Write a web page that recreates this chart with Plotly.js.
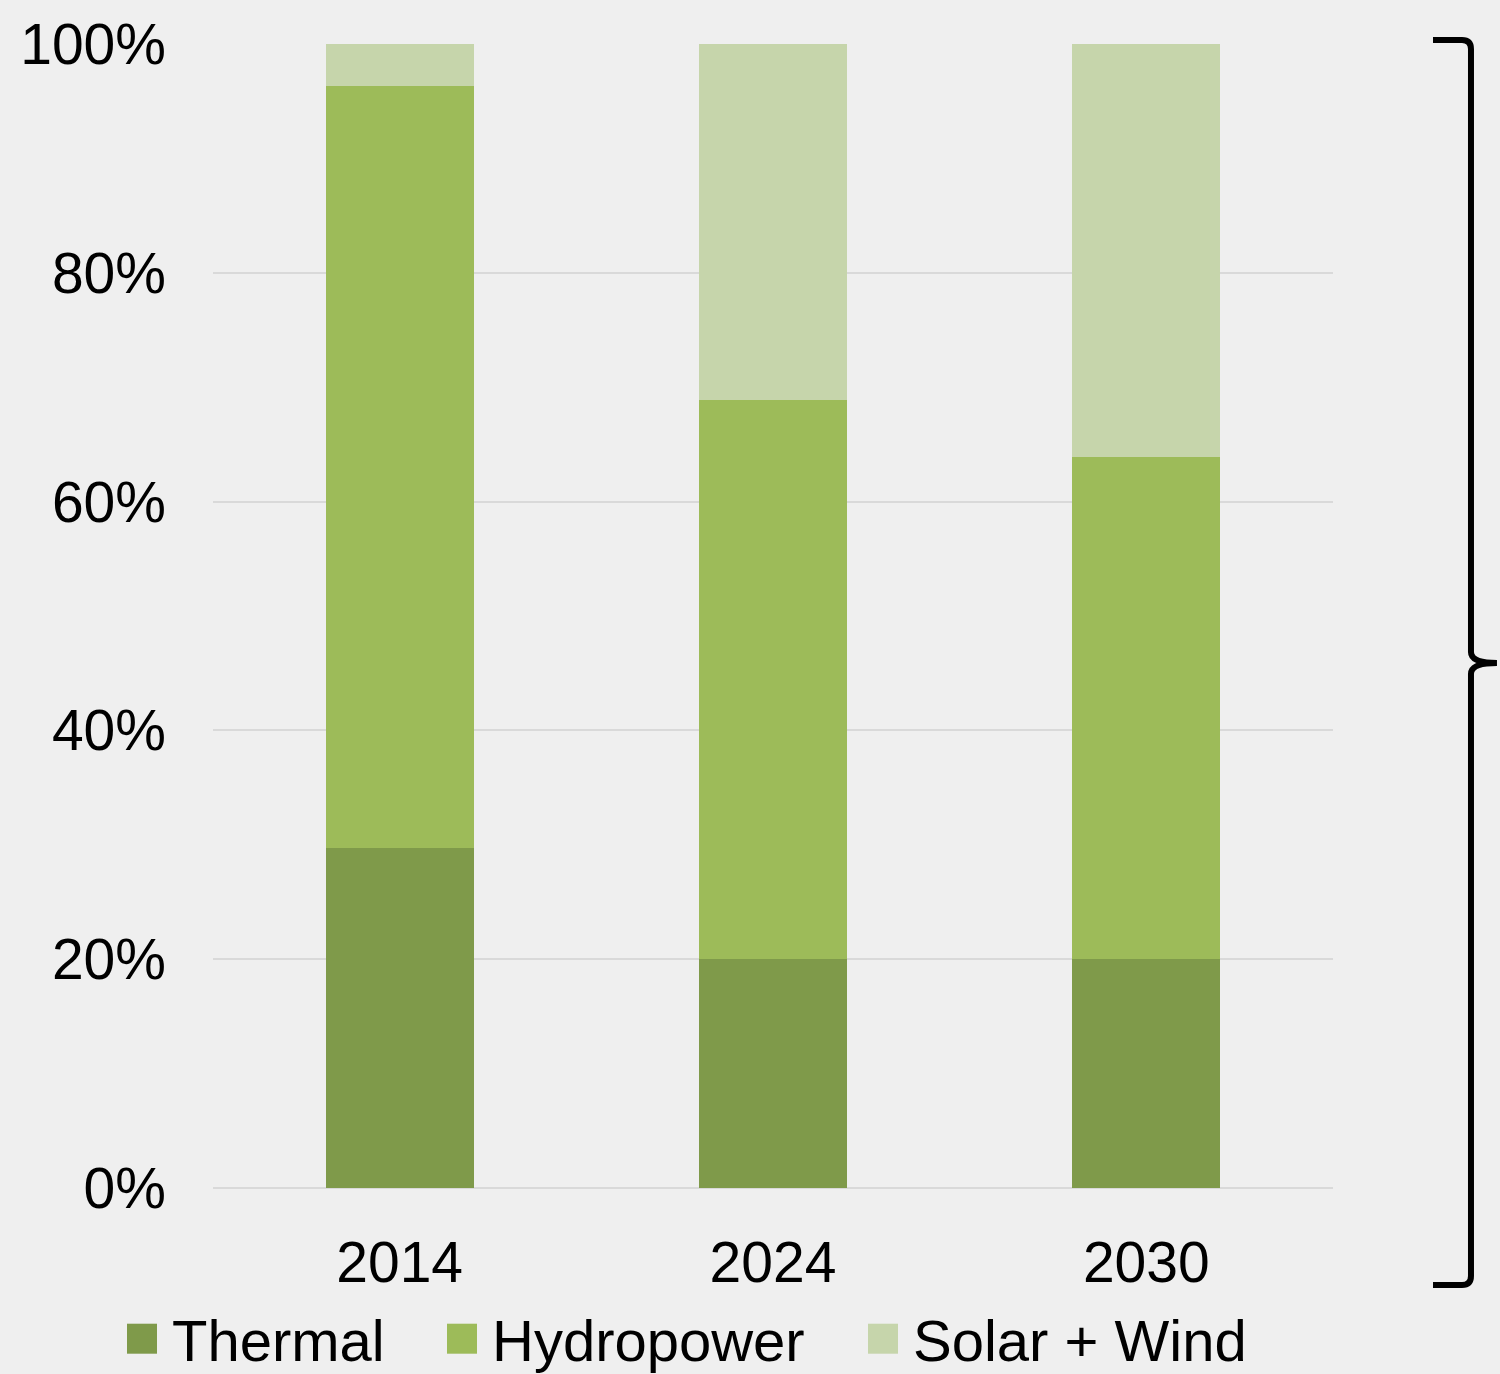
<!DOCTYPE html>
<html>
<head>
<meta charset="utf-8">
<script src="https://cdn.plot.ly/plotly-3.0.1.min.js"></script>
<style>
  html, body { margin: 0; padding: 0; background: #efefef; }
  #chart { width: 1500px; height: 1374px; }
</style>
</head>
<body>
<div id="chart"></div>
<script>
const years = ['2014', '2024', '2030'];
const thermal = [29.7, 20.0, 20.0];
const hydropower = [66.6, 48.9, 43.9];
const solarWind = [3.7, 31.1, 36.1];
const yTickVals = [0, 20, 40, 60, 80, 100];
const yTickText = ['0%', '20%', '40%', '60%', '80%', '100%'];

const colors = { thermal: '#7f9a4a', hydro: '#9dbb59', solar: '#c6d5ab' };

const traces = [
  { type: 'bar', name: 'Thermal', x: years, y: thermal, marker: { color: colors.thermal } },
  { type: 'bar', name: 'Hydropower', x: years, y: hydropower, marker: { color: colors.hydro } },
  { type: 'bar', name: 'Solar + Wind', x: years, y: solarWind, marker: { color: colors.solar } }
];

// helpers: convert pixel positions to paper coords (plot area 213..1333 x, 44..1188 y)
const L = 213, R = 1333, T = 44, B = 1188;
const px = v => ((v - L) / (R - L)).toFixed(4);
const py = v => ((B - v) / (B - T)).toFixed(4);
const bracePath =
  'M' + px(1433) + ',' + py(40) +
  ' L' + px(1462) + ',' + py(40) +
  ' Q' + px(1471) + ',' + py(40) + ' ' + px(1471) + ',' + py(49) +
  ' L' + px(1471) + ',' + py(652) +
  ' Q' + px(1471) + ',' + py(663) + ' ' + px(1497) + ',' + py(663) +
  ' Q' + px(1471) + ',' + py(663) + ' ' + px(1471) + ',' + py(674) +
  ' L' + px(1471) + ',' + py(1276) +
  ' Q' + px(1471) + ',' + py(1285) + ' ' + px(1462) + ',' + py(1285) +
  ' L' + px(1433) + ',' + py(1285);

const layout = {
  width: 1500, height: 1374,
  paper_bgcolor: '#efefef', plot_bgcolor: 'rgba(0,0,0,0)',
  margin: { l: L, r: 1500 - R, t: T, b: 1374 - B, pad: 0, autoexpand: false },
  font: { family: 'Liberation Sans, Arial, sans-serif', color: '#000000', size: 57 },
  barmode: 'stack',
  bargap: 0.603,
  xaxis: {
    type: 'category', showgrid: false, zeroline: false, showline: false, automargin: false,
    ticks: '', tickfont: { size: 57 }, ticklabelstandoff: 36, fixedrange: true
  },
  yaxis: {
    range: [0, 100], tickvals: yTickVals, ticktext: yTickText, automargin: false,
    showgrid: true, gridcolor: '#d9d9d9', gridwidth: 2,
    zeroline: true, zerolinecolor: '#d9d9d9', zerolinewidth: 2,
    showline: false, ticks: '', tickfont: { size: 57 }, ticklabelstandoff: 46, fixedrange: true
  },
  showlegend: true,
  legend: {
    orientation: 'h', xref: 'container', yref: 'container',
    x: 0.07, xanchor: 'left', y: 1 - 1339 / 1374, yanchor: 'middle',
    font: { size: 58 }, bgcolor: 'rgba(0,0,0,0)', traceorder: 'normal'
  },
  shapes: [
    { type: 'path', xref: 'paper', yref: 'paper', path: bracePath,
      line: { color: '#000000', width: 6 }, fillcolor: 'rgba(0,0,0,0)' }
  ]
};

const swatchCenters = [142, 462, 883];

Plotly.newPlot('chart', traces, layout, { displayModeBar: false, staticPlot: true }).then(gd => {
  // remove legend clipping so repositioned entries stay visible
  gd.querySelectorAll('.legend [clip-path], .legend').forEach(el => el.removeAttribute('clip-path'));
  const groups = gd.querySelectorAll('.legend .traces');
  groups.forEach((g, i) => {
    const path = g.querySelector('.legendpoints path');
    if (path) path.setAttribute('d', 'M15,15H-15V-15H15Z');
    const txt = g.querySelector('text.legendtext');
    if (txt) txt.setAttribute('x', (parseFloat(txt.getAttribute('x')) || 40) + 10);
    if (path) {
      const r = path.getBoundingClientRect();
      const cx = r.left + r.width / 2;
      const dx = swatchCenters[i] - cx;
      const tr = g.getAttribute('transform') || 'translate(0,0)';
      const m = tr.match(/translate\(\s*([-\d.]+)[ ,]+([-\d.]+)\s*\)/);
      const x0 = m ? parseFloat(m[1]) : 0, y0 = m ? parseFloat(m[2]) : 0;
      g.setAttribute('transform', 'translate(' + (x0 + dx) + ',' + y0 + ')');
    }
  });
});
</script>
</body>
</html>
